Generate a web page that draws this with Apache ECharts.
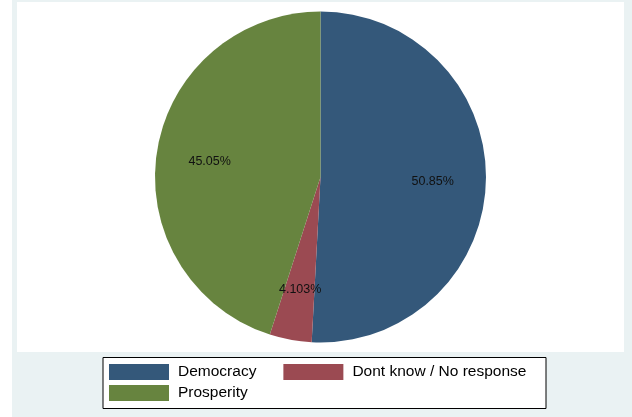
<!DOCTYPE html>
<html><head><meta charset="utf-8">
<script src="https://cdn.jsdelivr.net/npm/echarts@6/dist/echarts.min.js"></script>
<style>html,body{margin:0;padding:0;background:#fff}#c{width:632px;height:417px}</style>
</head><body><div id="c"></div>
<script>
const categories = ["Democracy", "Dont know / No response", "Prosperity"];
const values = [50.85, 4.103, 45.05];
const colors = ["#34587A", "#9B4A52", "#67843F"];

const chart = echarts.init(document.getElementById('c'), null, {renderer: 'canvas'});
const data = categories.map((n, i) => ({name: n, value: values[i], itemStyle: {color: colors[i]}}));
const center = [320.5, 177];
const R = 165.5;
chart.setOption({
  animation: false,
  backgroundColor: '#ffffff',
  graphic: [
    {type: 'rect', z: -10, shape: {x: 12, y: 0, width: 620, height: 417}, style: {fill: '#EAF2F3'}},
    {type: 'rect', z: -9, shape: {x: 17, y: 2, width: 607, height: 350}, style: {fill: '#ffffff'}},
    {type: 'rect', z: -8, shape: {x: 103, y: 357.5, width: 443, height: 51}, style: {fill: '#ffffff', stroke: '#000', lineWidth: 1}}
  ],
  legend: [
    {data: categories.slice(0, 2), left: 109, top: 364, padding: 0, orient: 'horizontal', icon: 'rect',
     itemWidth: 60, itemHeight: 16, itemGap: 27,
     textStyle: {fontFamily: 'Liberation Sans', fontSize: 15.5, color: '#000', padding: [0, 0, 0, 4]}},
    {data: categories.slice(2), left: 109, top: 385, padding: 0, orient: 'horizontal', icon: 'rect',
     itemWidth: 60, itemHeight: 16,
     textStyle: {fontFamily: 'Liberation Sans', fontSize: 15.5, color: '#000', padding: [0, 0, 0, 4]}}
  ],
  series: [
    {type: 'pie', center: center, radius: [0, R], startAngle: 90, clockwise: true,
     data: data, label: {show: false}, labelLine: {show: false}, silent: true,
     itemStyle: {borderWidth: 0}},
    {type: 'pie', center: center, radius: [R * 0.32, R], startAngle: 90, clockwise: true,
     data: categories.map((n, i) => ({name: n, value: values[i]})), silent: true,
     legendHoverLink: false,
     itemStyle: {color: 'rgba(0,0,0,0)', borderWidth: 0},
     label: {show: true, position: 'inside', formatter: '{c}%', fontFamily: 'Liberation Sans',
       fontSize: 12.5, color: '#111', offset: [0, 2]},
     labelLine: {show: false}}
  ]
});
</script></body></html>
